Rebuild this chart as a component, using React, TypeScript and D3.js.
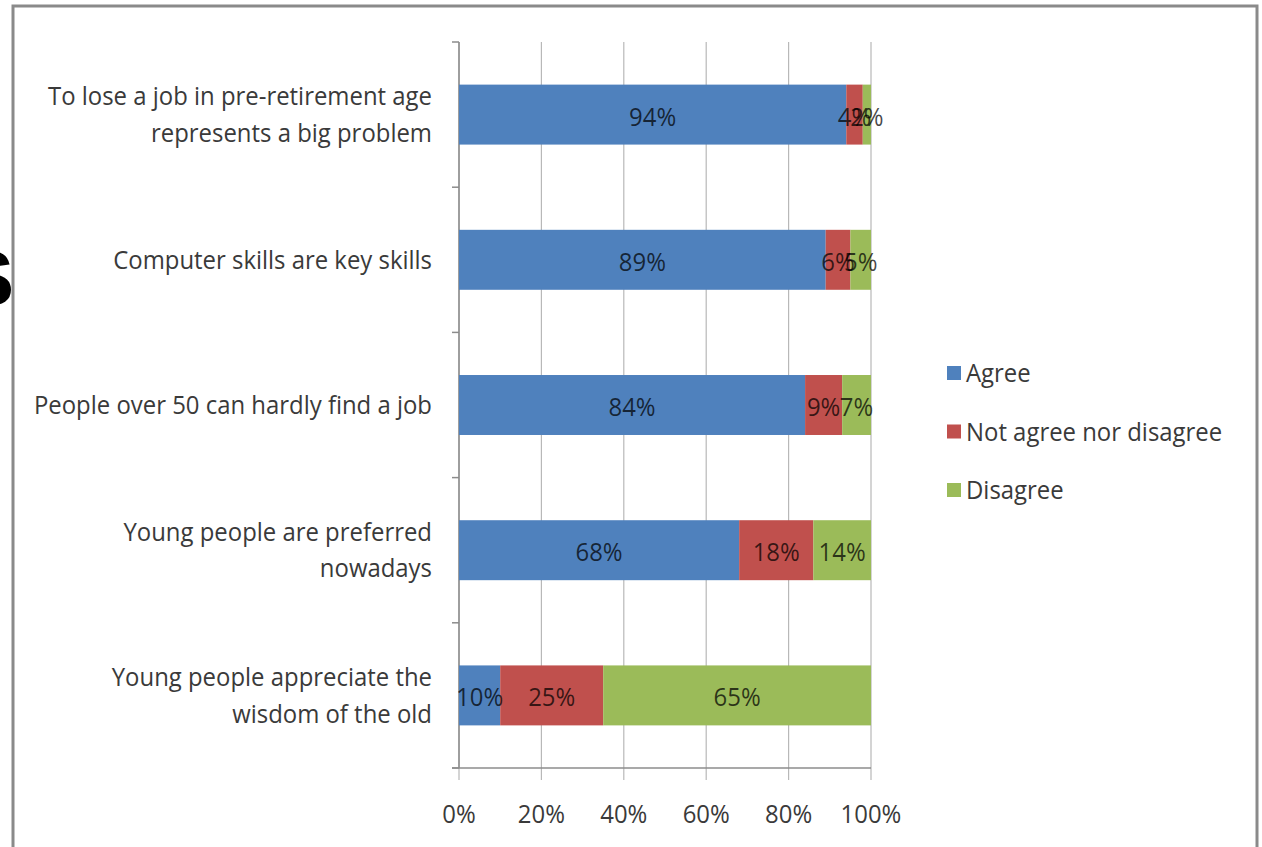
import React from "react";
import * as d3 from "d3";

const categories = [
  ["To lose a job in pre-retirement age", "represents a big problem"],
  ["Computer skills are key skills"],
  ["People over 50 can hardly find a job"],
  ["Young people are preferred", "nowadays"],
  ["Young people appreciate the", "wisdom of the old"],
];
const agree = [94, 89, 84, 68, 10];
const neutral = [4, 6, 9, 18, 25];
const disagree = [2, 5, 7, 14, 65];
const seriesNames = ["Agree", "Not agree nor disagree", "Disagree"];
const seriesColors = ["#4F81BD", "#C0504D", "#9BBB59"];
const xTicks = [0, 20, 40, 60, 80, 100];

const W = 1262;
const H = 847;
const FONT = "'Open Sans', sans-serif";
const FS = 26;
const SX = 0.92;

function T(props: { x: number; y: number; anchor?: string; fill?: string; opacity?: number; children: React.ReactNode }) {
  return (
    <text
      transform={`translate(${props.x},${props.y}) scale(${SX},1)`}
      fontSize={FS}
      textAnchor={props.anchor || "start"}
      fill={props.fill || "#3a3a3a"}
      fillOpacity={props.opacity ?? 1}
    >
      {props.children}
    </text>
  );
}

export default function App() {
  const x = d3.scaleLinear().domain([0, 100]).range([459, 871]);
  const idx = categories.map((_, i) => String(i));
  const y = d3.scaleBand().domain(idx).range([42, 768]).paddingInner(0.587).paddingOuter(0.2935);
  const yOuter = d3.scaleBand().domain(idx).range([42, 768]);
  const rows = categories.map((_, i) => ({ agree: agree[i], neutral: neutral[i], disagree: disagree[i] }));
  const stack = d3.stack<any>().keys(["agree", "neutral", "disagree"])(rows);

  return (
    <svg width={W} height={H} style={{ position: "absolute", left: 0, top: 0, background: "#fff" }} fontFamily={FONT}>
      <rect x={0} y={0} width={W} height={H} fill="#fff" />
      {/* frame */}
      <rect x={13} y={6} width={1244} height={860} fill="none" stroke="#8a8a8a" strokeWidth={3} />
      <text x={-38} y={305} fontSize={78} fontWeight="bold" fill="#000" fontFamily="'Liberation Sans', sans-serif">S</text>
      {/* gridlines */}
      {xTicks.map((t) => (
        <line key={"g" + t} x1={x(t)} x2={x(t)} y1={42} y2={780} stroke="#b8b8b8" strokeWidth={1.2} />
      ))}
      {/* y axis */}
      <line x1={459} x2={459} y1={42} y2={768} stroke="#8c8c8c" strokeWidth={1.5} />
      {d3.range(6).map((i) => {
        const yy = i < 5 ? yOuter(String(i))! : 768;
        return <line key={"yt" + i} x1={452} x2={459} y1={yy} y2={yy} stroke="#8c8c8c" strokeWidth={1.5} />;
      })}
      {/* x axis */}
      <line x1={452} x2={871} y1={768} y2={768} stroke="#8c8c8c" strokeWidth={1.5} />
      {xTicks.map((t) => (
        <T key={"xl" + t} x={x(t)} y={823} anchor="middle">{t}%</T>
      ))}
      {/* bars */}
      {stack.map((s, si) =>
        s.map((d, i) => (
          <rect key={si + "-" + i} x={x(d[0])} y={y(String(i))!} width={x(d[1]) - x(d[0])} height={y.bandwidth()} fill={seriesColors[si]} />
        ))
      )}
      {stack.map((s, si) =>
        s.map((d, i) => (
          <T key={"l" + si + "-" + i} x={x((d[0] + d[1]) / 2)} y={y(String(i))! + y.bandwidth() / 2 + 11} anchor="middle" fill="#000" opacity={0.72}>
            {d[1] - d[0]}%
          </T>
        ))
      )}
      {/* category labels */}
      {categories.map((lines, i) => {
        const cy = yOuter(String(i))! + yOuter.bandwidth() / 2;
        const lh = 36.5;
        const start = cy - ((lines.length - 1) * lh) / 2 + 9;
        return (
          <g key={"c" + i}>
            {lines.map((ln, j) => (
              <T key={j} x={432} y={start + j * lh} anchor="end">{ln}</T>
            ))}
          </g>
        );
      })}
      {/* legend */}
      {seriesNames.map((n, i) => (
        <g key={"lg" + i} transform={`translate(947, ${373 + i * 58.5})`}>
          <rect x={0} y={-7} width={14} height={14} fill={seriesColors[i]} />
          <T x={19} y={9}>{n}</T>
        </g>
      ))}
    </svg>
  );
}
